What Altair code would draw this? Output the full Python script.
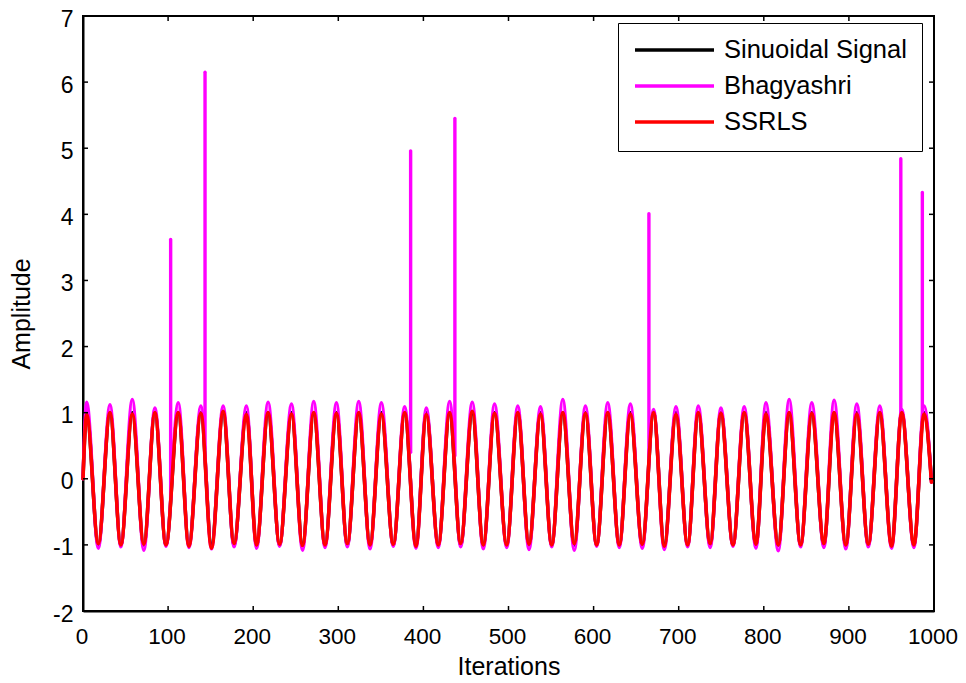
import altair as alt
import pandas as pd

series_names = ["Sinuoidal Signal", "Bhagyashri", "SSRLS"]
series_colors = ["#000000", "#ff00ff", "#ff0000"]

start_x = 0.0
end_x = 997.0

peak_x = [4.3, 31.7, 57.9, 84.5, 111.9, 138.5, 164.7, 192.0, 217.5, 245.0,
          271.1, 297.8, 324.0, 350.6, 378.0, 403.4, 430.8, 457.4, 483.6, 510.9,
          537.6, 563.8, 590.4, 616.6, 643.2, 670.5, 696.8, 723.0, 749.6, 777.0,
          802.5, 829.8, 856.4, 882.6, 909.3, 936.3, 962.1, 988.3]
trough_x = [18.0, 44.5, 71.5, 97.5, 124.5, 151.0, 177.5, 204.0, 231.0, 258.0,
            284.4, 310.6, 337.3, 364.6, 391.3, 417.5, 443.8, 470.4, 497.9, 524.1,
            550.8, 577.3, 603.6, 630.2, 657.2, 683.1, 710.5, 737.0, 763.8, 790.8,
            817.0, 843.3, 870.6, 896.4, 922.8, 950.2, 976.4]

signal_peak = [1.0] * 38
signal_trough = [-1.0] * 37

bhag_peak = [1.16, 1.12, 1.20, 1.07, 1.15, 1.10, 1.10, 1.10, 1.16, 1.13,
             1.17, 1.15, 1.17, 1.15, 1.09, 1.07, 1.17, 1.16, 1.13, 1.10,
             1.09, 1.20, 1.10, 1.15, 1.13, 1.05, 1.09, 1.10, 1.07, 1.09,
             1.15, 1.20, 1.15, 1.19, 1.13, 1.10, 1.05, 1.10]
bhag_trough = [-1.05, -1.03, -1.08, -1.02, -1.04, -1.06, -1.03, -1.05, -1.02, -1.08,
               -1.04, -1.03, -1.06, -1.02, -1.05, -1.04, -1.03, -1.06, -1.04, -1.07,
               -1.03, -1.08, -1.02, -1.04, -1.05, -1.07, -1.03, -1.04, -1.02, -1.05,
               -1.09, -1.03, -1.04, -1.06, -1.03, -1.05, -1.04]

ssrls_peak = [0.97, 1.00, 0.98, 1.00, 1.00, 0.99, 1.02, 0.97, 1.00, 0.98,
              1.00, 0.99, 1.00, 0.98, 1.00, 0.97, 1.00, 1.02, 0.99, 1.00,
              0.98, 1.00, 0.99, 1.00, 0.98, 1.00, 0.97, 1.00, 0.99, 1.00,
              0.98, 1.00, 0.99, 1.00, 0.98, 1.00, 1.00, 0.98]
ssrls_trough = [-0.98, -1.00, -0.99, -1.00, -1.02, -1.05, -0.98, -1.00, -0.99, -1.01,
                -1.00, -0.98, -1.00, -0.99, -1.02, -1.00, -0.98, -1.00, -1.00, -0.99,
                -1.00, -0.98, -1.00, -1.00, -0.99, -1.02, -1.00, -0.98, -1.00, -0.99,
                -1.00, -1.00, -0.98, -1.00, -0.99, -1.02, -1.00]

start_vals = [0.0, 0.0, 0.0]
end_vals = [-0.02, -0.05, -0.05]

spike_x = [103.0, 143.4, 385.0, 437.0, 665.0, 961.0, 986.3]
spike_base = [-0.30, 0.45, 0.40, 0.35, 0.30, 0.95, 0.90]
spike_top = [3.62, 6.15, 4.96, 5.45, 4.01, 4.84, 4.33]

x_ticks = [0, 100, 200, 300, 400, 500, 600, 700, 800, 900, 1000]
y_ticks = [-2, -1, 0, 1, 2, 3, 4, 5, 6, 7]


def build(name, peaks, troughs, s, e):
    rows = [{"x": start_x, "y": s, "series": name}]
    for i in range(len(peak_x)):
        rows.append({"x": peak_x[i], "y": peaks[i], "series": name})
        if i < len(trough_x):
            rows.append({"x": trough_x[i], "y": troughs[i], "series": name})
    rows.append({"x": end_x, "y": e, "series": name})
    return pd.DataFrame(rows)


df_sig = build(series_names[0], signal_peak, signal_trough, start_vals[0], end_vals[0])
df_bha = build(series_names[1], bhag_peak, bhag_trough, start_vals[1], end_vals[1])
df_ssr = build(series_names[2], ssrls_peak, ssrls_trough, start_vals[2], end_vals[2])
df_spk = pd.DataFrame({"x": spike_x, "y": spike_base, "y2": spike_top,
                       "series": [series_names[1]] * len(spike_x)})
df_xt = pd.DataFrame({"x": x_ticks})
df_yt = pd.DataFrame({"y": y_ticks})

W, H = 851, 595
FONT = "Liberation Sans"

xs = alt.Scale(domain=[0, 1000], nice=False, zero=False)
ys = alt.Scale(domain=[-2, 7], nice=False, zero=False)

x_axis = alt.Axis(values=x_ticks, labelExpr="datum.value + ''", labelPadding=14,
                  labelFlush=False, labelOverlap=False, labelOffset=-1.5,
                  labelFontSize=22.5, titleY=55, titleBaseline="middle")
y_axis = alt.Axis(values=y_ticks, labelExpr="datum.value + ''", labelPadding=10,
                  labelFlush=False, labelOverlap=False, labelOffset=3,
                  titleX=-62, titleBaseline="middle")
x_enc = alt.X("x:Q", scale=xs, title="Iterations", axis=x_axis)
y_enc = alt.Y("y:Q", scale=ys, title="Amplitude", axis=y_axis)

color_enc = alt.Color(
    "series:N",
    scale=alt.Scale(domain=series_names, range=series_colors),
    legend=alt.Legend(
        title=None, orient="none", legendX=535, legendY=7,
        symbolType="stroke", symbolSize=6241, symbolStrokeWidth=3.5,
        labelFontSize=25.5, labelFont=FONT, labelColor="black", labelLimit=400,
        padding=15, strokeColor="black", fillColor="white",
        rowPadding=10, clipHeight=24, labelOffset=8,
    ),
)


def line_layer(df, sw):
    return alt.Chart(df).mark_line(
        interpolate="monotone", strokeWidth=sw, strokeJoin="round", strokeCap="round"
    ).encode(x=x_enc, y=y_enc, color=color_enc, order=alt.Order("x:Q"))


sig = line_layer(df_sig, 3.5)
bha = line_layer(df_bha, 3.4)
spk = alt.Chart(df_spk).mark_rule(strokeWidth=3.4, strokeCap="round").encode(
    x=x_enc, y=y_enc, y2="y2:Q", color=color_enc,
)
ssr = line_layer(df_ssr, 3.6)

tick_b = alt.Chart(df_xt).mark_rule(color="black", strokeWidth=1.5).encode(
    x=x_enc, y=alt.value(H), y2=alt.value(H - 5))
tick_t = alt.Chart(df_xt).mark_rule(color="black", strokeWidth=1.5).encode(
    x=x_enc, y=alt.value(0), y2=alt.value(5))
tick_l = alt.Chart(df_yt).mark_rule(color="black", strokeWidth=1.5).encode(
    y=y_enc, x=alt.value(0), x2=alt.value(5))
tick_r = alt.Chart(df_yt).mark_rule(color="black", strokeWidth=1.5).encode(
    y=y_enc, x=alt.value(W), x2=alt.value(W - 5))

chart = alt.layer(sig, bha, spk, ssr, tick_b, tick_t, tick_l, tick_r).properties(
    width=W, height=H,
    autosize=alt.AutoSizeParams(type="none"),
    padding={"left": 75, "top": 8, "right": 24, "bottom": 70},
    background="white",
).configure_view(
    stroke="black", strokeWidth=2
).configure_axis(
    grid=False, tickSize=0, domainColor="black", domainWidth=2,
    labelFont=FONT, labelFontSize=23, labelColor="black",
    titleFont=FONT, titleFontSize=25, titleColor="black", titleFontWeight="normal",
)

chart.save("out.html", embed_options={"renderer": "svg", "actions": False})
